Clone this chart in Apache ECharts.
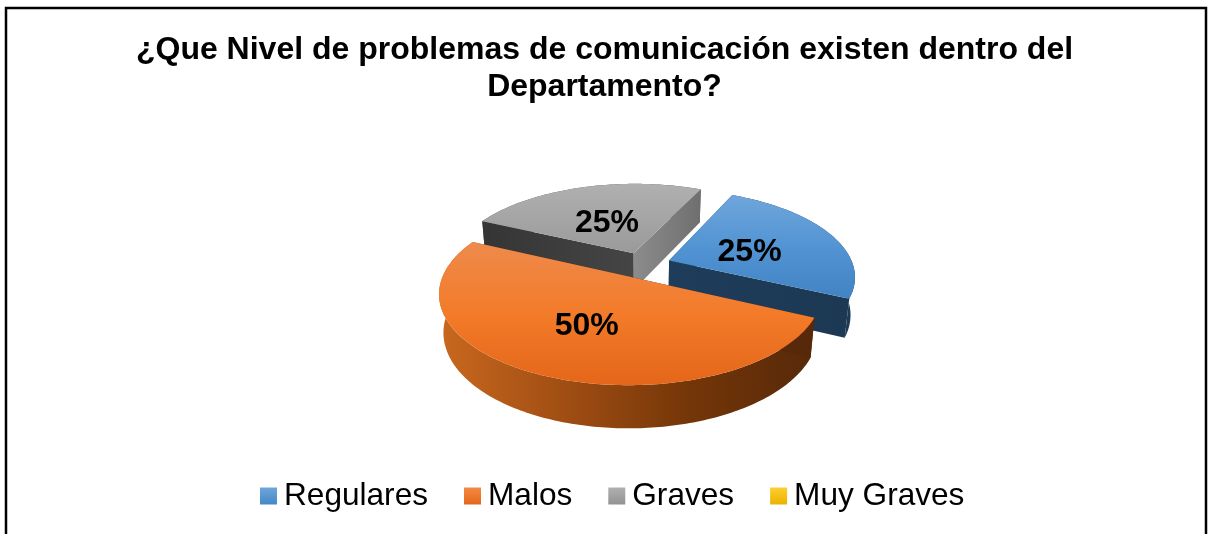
<!DOCTYPE html>
<html>
<head>
<meta charset="utf-8">
<style>
  html, body { margin: 0; padding: 0; background: #fff; }
  #chart { width: 1209px; height: 534px; }
</style>
<script src="https://cdn.jsdelivr.net/npm/echarts@6/dist/echarts.min.js"></script>
</head>
<body>
<div id="chart"></div>
<script>
const titleText = "¿Que Nivel de problemas de comunicación existen dentro del\nDepartamento?";
const categories = ["Regulares", "Malos", "Graves", "Muy Graves"];
const values = [25, 50, 25, 0];

const grad = (x2, y2, stops) =>
  new echarts.graphic.LinearGradient(0, 0, x2, y2, stops.map((c, i) => ({ offset: i / (stops.length - 1), color: c })));

// per slice look: top face, walls of the two radial edges, outer wall
const looks = [
  {
    top: grad(0, 1, ["#6fa6dc", "#5294d3", "#4284c3"]),
    start: "#1d3a56",
    end: grad(1, 0, ["#1e3d5b", "#1c3853"]),
    outer: "#1d3a56",
    legend: grad(0, 1, ["#6ea6dc", "#4587c6"]),
    labelAt: 0.5,
    labelShift: [-2, 5],
    z: 2
  },
  {
    top: grad(0, 1, ["#ee8a4c", "#f37b29", "#e4661a"]),
    start: "#57290a",
    end: "#8a4310",
    outer: grad(1, 0, ["#c9681f", "#a04e13", "#743608", "#57290a"]),
    legend: grad(0, 1, ["#f48a45", "#e4661a"]),
    labelAt: 0.56,
    labelShift: [6, -1],
    z: 3
  },
  {
    top: grad(0, 1, ["#b0b0b0", "#9a9a9a"]),
    start: grad(1, 0, ["#353535", "#454545"]),
    end: grad(1, 0, ["#8c8c8c", "#6f6f6f"]),
    outer: "#555555",
    legend: grad(0, 1, ["#b0b0b0", "#929292"]),
    labelAt: 0.42,
    labelShift: [-3, 0],
    z: 1
  },
  {
    top: grad(0, 1, ["#ffcd33", "#e8b000"]),
    start: "#7f6000",
    end: "#7f6000",
    outer: "#7f6000",
    legend: grad(0, 1, ["#ffcd33", "#eab200"]),
    labelAt: 0.5,
    labelShift: [0, 0],
    z: 0
  }
];

// pie camera
const cx = 643, cy = 265;
const radius = 184, depth = 43, explode = 28;
const firstAngle = 25;
const tilt = 27.5 * Math.PI / 180;
const focal = 950;

const total = values.reduce((a, b) => a + b, 0);

function project(x, y, z) {
  const d = y * Math.cos(tilt) - z * Math.sin(tilt);
  const s = focal / (focal + d);
  return [cx + x * s, cy - (y * Math.sin(tilt) + z * Math.cos(tilt)) * s];
}

function renderSlice(index) {
  return function (params, api) {
    const value = api.value(0);
    if (!value) return null;
    const before = values.slice(0, index).reduce((a, b) => a + b, 0);
    const from = firstAngle + before / total * 360;
    const to = from + value / total * 360;
    const mid = (from + to) / 2 * Math.PI / 180;
    const ox = explode * Math.sin(mid);
    const oy = explode * Math.cos(mid);
    const rim = (deg, z) => {
      const a = deg * Math.PI / 180;
      return project(ox + radius * Math.sin(a), oy + radius * Math.cos(a), z);
    };
    const apex = z => project(ox, oy, z);

    const topArc = [];
    const lowArc = [];
    for (let a = from; a <= to + 0.001; a += 1) {
      topArc.push(rim(a, 0));
      lowArc.push(rim(a, -depth));
    }
    const look = looks[index];
    const poly = (points, fill) => ({
      type: "polygon",
      shape: { points },
      style: { fill, stroke: null }
    });
    const labelR = radius * look.labelAt;
    const labelPos = project(ox + labelR * Math.sin(mid), oy + labelR * Math.cos(mid), 0);

    return {
      type: "group",
      children: [
        poly(topArc.concat(lowArc.slice().reverse()), look.outer),
        poly([apex(0), rim(from, 0), rim(from, -depth), apex(-depth)], look.start),
        poly([apex(0), rim(to, 0), rim(to, -depth), apex(-depth)], look.end),
        poly([apex(0)].concat(topArc), look.top),
        {
          type: "text",
          z2: 10,
          style: {
            text: Math.round(value / total * 100) + "%",
            x: labelPos[0] + look.labelShift[0],
            y: labelPos[1] + look.labelShift[1],
            fill: "#000",
            font: 'bold 32px "Liberation Sans"',
            textAlign: "center",
            textVerticalAlign: "middle"
          }
        }
      ]
    };
  };
}

const myChart = echarts.init(document.getElementById("chart"), null, { renderer: "canvas" });
myChart.setOption({
  animation: false,
  backgroundColor: "#fff",
  title: {
    text: titleText,
    left: "center",
    top: 27,
    textStyle: {
      fontFamily: "Liberation Sans",
      fontSize: 32,
      fontWeight: "bold",
      color: "#000",
      lineHeight: 37
    }
  },
  legend: {
    left: 260,
    top: 480,
    padding: 0,
    icon: "rect",
    itemWidth: 17,
    itemHeight: 17,
    itemGap: 36,
    textStyle: {
      fontFamily: "Liberation Sans",
      fontSize: 31.6,
      color: "#000",
      padding: [0, 0, 0, 2]
    },
    data: categories.map((name, i) => ({ name, itemStyle: { color: looks[i].legend } }))
  },
  graphic: [
    {
      type: "rect",
      shape: { x: 6, y: 8, width: 1200, height: 600 },
      style: { fill: null, stroke: "#000", lineWidth: 2.5 },
      silent: true
    }
  ],
  series: categories.map((name, i) => ({
    name,
    type: "custom",
    coordinateSystem: "none",
    z: looks[i].z + 2,
    silent: true,
    renderItem: renderSlice(i),
    itemStyle: { color: looks[i].legend },
    data: [[values[i]]]
  }))
});
</script>
</body>
</html>
